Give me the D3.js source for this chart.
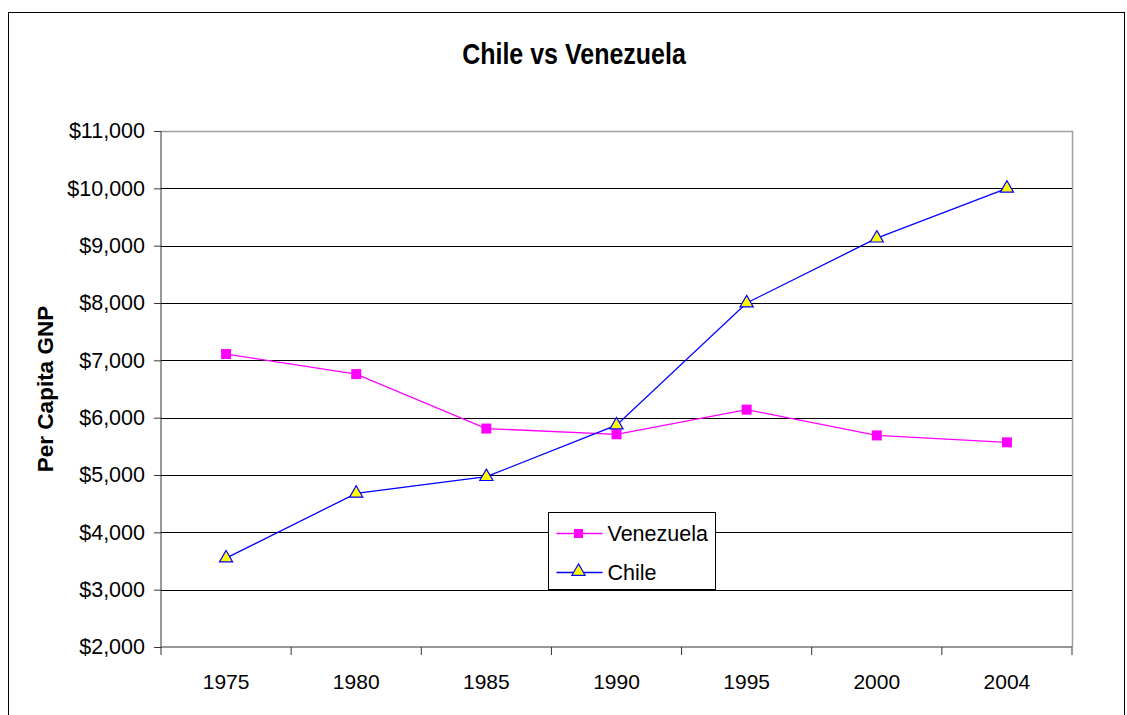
<!DOCTYPE html>
<html>
<head>
<meta charset="utf-8">
<script src="https://cdn.jsdelivr.net/npm/d3@7"></script>
<style>
  body { margin: 0; background: #fff; }
  text { font-family: "Liberation Sans", Arial, sans-serif; }
</style>
</head>
<body>
<div id="chart"></div>
<script>
// data
const years = ["1975", "1980", "1985", "1990", "1995", "2000", "2004"];
const venezuela = [7110, 6760, 5810, 5710, 6140, 5690, 5570];
const chile = [3550, 4680, 4970, 5870, 8000, 9130, 10000];
const yTicks = [2000, 3000, 4000, 5000, 6000, 7000, 8000, 9000, 10000, 11000];

const W = 1127, H = 715;
var margin = { top: 131, right: 55, bottom: 68, left: 161 },
    width = W - margin.left - margin.right,
    height = H - margin.top - margin.bottom;

var svg = d3.select("#chart").append("svg")
    .attr("width", W)
    .attr("height", H);

// outer chart border
svg.append("rect")
    .attr("x", 8.5).attr("y", 12.5)
    .attr("width", 1116).attr("height", 720)
    .attr("fill", "none").attr("stroke", "#000").attr("stroke-width", 1);

svg.append("text")
    .attr("transform", "translate(574,64) scale(1,1.15)")
    .attr("text-anchor", "middle")
    .style("font-size", "25px").style("font-weight", "bold")
    .text("Chile vs Venezuela");

var g = svg.append("g")
    .attr("transform", "translate(" + margin.left + "," + margin.top + ")");

var x = d3.scaleBand().domain(years).range([0, width]);
var y = d3.scaleLinear().domain([2000, 11000]).range([height, 0]);

// plot frame (grey top / right)
g.append("path")
    .attr("d", "M0,0.5H" + (width + 0.5) + "V" + height)
    .attr("fill", "none").attr("stroke", "#a0a0a0").attr("stroke-width", 1.5);

// gridlines
g.selectAll(".grid")
    .data(yTicks.filter(d => d > 2000 && d < 11000))
    .enter().append("line")
    .attr("x1", 0).attr("x2", width)
    .attr("y1", d => Math.round(y(d)) + 0.5).attr("y2", d => Math.round(y(d)) + 0.5)
    .attr("stroke", "#000").attr("stroke-width", 1);

// Y axis
var yAxis = g.append("g")
    .call(d3.axisLeft(y).tickValues(yTicks).tickSize(7).tickPadding(9)
        .tickFormat(d => "$" + d3.format(",")(d)));
yAxis.selectAll("text").style("font-size", "21.5px").attr("fill", "#000");
yAxis.selectAll("line, path").attr("stroke", "#333");
yAxis.select(".domain").attr("d", "M0,0V" + height);

// X axis, ticks between categories
var xAxis = g.append("g")
    .attr("transform", "translate(0," + height + ")");
xAxis.append("line")
    .attr("x1", 0).attr("x2", width)
    .attr("stroke", "#333").attr("stroke-width", 1.2);
xAxis.selectAll(".tk")
    .data(d3.range(years.length + 1))
    .enter().append("line")
    .attr("x1", i => i * x.step()).attr("x2", i => i * x.step())
    .attr("y1", 0).attr("y2", 8)
    .attr("stroke", "#333");
xAxis.selectAll(".lbl")
    .data(years)
    .enter().append("text")
    .attr("x", d => x(d) + x.bandwidth() / 2)
    .attr("y", 42)
    .attr("text-anchor", "middle")
    .style("font-size", "21px")
    .text(d => d);

// y title
svg.append("text")
    .attr("transform", "translate(53,389) rotate(-90)")
    .attr("text-anchor", "middle")
    .style("font-size", "22.5px").style("font-weight", "bold")
    .text("Per Capita GNP");

var cx = (d, i) => x(years[i]) + x.bandwidth() / 2;
var line = d3.line().x(cx).y(d => y(d));

var tri = d3.symbol().type(d3.symbolTriangle).size(75);

// Venezuela
g.append("path").datum(venezuela)
    .attr("d", line).attr("fill", "none")
    .attr("stroke", "#ff00ff").attr("stroke-width", 1.3);
g.selectAll(".ven").data(venezuela).enter().append("rect")
    .attr("x", (d, i) => cx(d, i) - 5).attr("y", d => y(d) - 5)
    .attr("width", 10).attr("height", 10)
    .attr("fill", "#ff00ff");

// Chile
g.append("path").datum(chile)
    .attr("d", line).attr("fill", "none")
    .attr("stroke", "#0000ff").attr("stroke-width", 1.3);
g.selectAll(".chi").data(chile).enter().append("path")
    .attr("d", tri)
    .attr("transform", (d, i) => "translate(" + cx(d, i) + "," + y(d) + ")")
    .attr("fill", "#ffff00").attr("stroke", "#0000ff").attr("stroke-width", 1.2);

// legend
var leg = svg.append("g").attr("transform", "translate(548.5,512.5)");
leg.append("rect")
    .attr("width", 167).attr("height", 77)
    .attr("fill", "#fff").attr("stroke", "#000");
var items = [
  { name: "Venezuela", color: "#ff00ff", mark: "sq" },
  { name: "Chile", color: "#0000ff", mark: "tri" }
];
items.forEach(function(it, i) {
  var yy = 21 + i * 39;
  leg.append("line")
      .attr("x1", 8).attr("x2", 54).attr("y1", yy).attr("y2", yy)
      .attr("stroke", it.color).attr("stroke-width", 1.3);
  if (it.mark == "sq") {
    leg.append("rect").attr("x", 25.5).attr("y", yy - 4.5)
        .attr("width", 9).attr("height", 9).attr("fill", it.color);
  } else {
    leg.append("path").attr("d", tri)
        .attr("transform", "translate(30," + (yy - 1) + ")")
        .attr("fill", "#ffff00").attr("stroke", it.color).attr("stroke-width", 1.2);
  }
  leg.append("text")
      .attr("x", 59).attr("y", yy + 7)
      .style("font-size", "21.5px")
      .text(it.name);
});
</script>
</body>
</html>
